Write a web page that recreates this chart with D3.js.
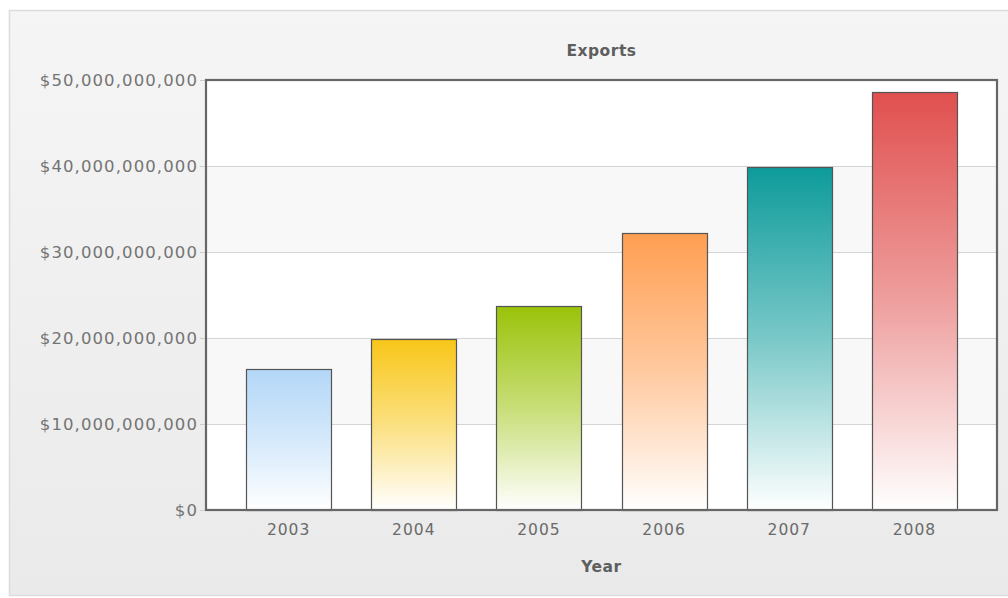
<!DOCTYPE html>
<html>
<head>
<meta charset="utf-8">
<script src="https://cdn.jsdelivr.net/npm/d3@7"></script>
<style>
  html, body { margin: 0; padding: 0; background: #ffffff; }
  svg { display: block; font-family: "DejaVu Sans", Verdana, sans-serif; }
</style>
</head>
<body>
<svg id="chart" width="1008" height="598"></svg>
<script>
const years = ["2003", "2004", "2005", "2006", "2007", "2008"];
const exportsValues = [16400000000, 19850000000, 23700000000, 32200000000, 39900000000, 48600000000];
const barColors = ["#b3d7f7", "#f8c619", "#9bc30a", "#ff9e52", "#0e9b9b", "#e0504f"];
const yTicks = [0, 10000000000, 20000000000, 30000000000, 40000000000, 50000000000];
const chartTitle = "Exports";
const xTitle = "Year";

const svg = d3.select("#chart");
const W = 1008, H = 598;
const plot = { left: 206, top: 80, right: 997, bottom: 510 };

const defs = svg.append("defs");
const bg = defs.append("linearGradient").attr("id", "bgGrad").attr("x1", 0).attr("y1", 0).attr("x2", 0).attr("y2", 1);
bg.append("stop").attr("offset", 0).attr("stop-color", "#f5f5f5");
bg.append("stop").attr("offset", 1).attr("stop-color", "#eaeaea");

// outer panel
svg.append("rect").attr("x", 0).attr("y", 0).attr("width", W).attr("height", H).attr("fill", "#ffffff");
svg.append("rect").attr("x", 9.5).attr("y", 10.5).attr("width", W).attr("height", 585)
  .attr("fill", "url(#bgGrad)").attr("stroke", "#dcdcdc").attr("stroke-width", 1.5);

const x = d3.scaleBand().domain(years).range([plot.left, plot.right]).padding(0.32);
const y = d3.scaleLinear().domain([0, 50000000000]).range([plot.bottom, plot.top]);

// alternating bands
const bands = yTicks.slice(0, -1).map((t, i) => ({ lo: t, hi: yTicks[i + 1], i }));
svg.append("g").selectAll("rect").data(bands).join("rect")
  .attr("x", plot.left).attr("width", plot.right - plot.left)
  .attr("y", d => y(d.hi)).attr("height", d => y(d.lo) - y(d.hi))
  .attr("fill", d => d.i % 2 === 0 ? "#ffffff" : "#f8f8f8");

// gridlines
svg.append("g").selectAll("line").data(yTicks.slice(1, -1)).join("line")
  .attr("x1", plot.left).attr("x2", plot.right)
  .attr("y1", d => Math.round(y(d)) + 0.5).attr("y2", d => Math.round(y(d)) + 0.5)
  .attr("stroke", "#d4d4d4").attr("stroke-width", 1);

// gradients for bars
years.forEach((yr, i) => {
  const g = defs.append("linearGradient").attr("id", "bar" + i)
    .attr("x1", 0).attr("y1", 0).attr("x2", 0).attr("y2", 1);
  g.append("stop").attr("offset", 0).attr("stop-color", barColors[i]);
  g.append("stop").attr("offset", 0.5).attr("stop-color", d3.interpolateRgb(barColors[i], "#ffffff")(0.45));
  g.append("stop").attr("offset", 1).attr("stop-color", "#ffffff");
});

// bars
svg.append("g").selectAll("rect").data(years).join("rect")
  .attr("x", d => Math.round(x(d)) + 0.5)
  .attr("width", Math.round(x.bandwidth()))
  .attr("y", (d, i) => Math.round(y(exportsValues[i])) + 0.5)
  .attr("height", (d, i) => plot.bottom - Math.round(y(exportsValues[i])))
  .attr("fill", (d, i) => `url(#bar${i})`)
  .attr("stroke", "#555555").attr("stroke-width", 1.2);

// plot border
svg.append("rect").attr("x", plot.left).attr("y", plot.top)
  .attr("width", plot.right - plot.left).attr("height", plot.bottom - plot.top)
  .attr("fill", "none").attr("stroke", "#666666").attr("stroke-width", 2.2);

// y axis
const fmt = v => "$" + d3.format(",")(v);
const yAxis = svg.append("g").attr("transform", `translate(${plot.left - 1},0)`)
  .call(d3.axisLeft(y).tickValues(yTicks).tickFormat(fmt).tickSize(5).tickPadding(2));
yAxis.select(".domain").remove();
yAxis.selectAll(".tick line").attr("stroke", "#cccccc");
yAxis.selectAll(".tick text")
  .attr("fill", "#747474").style("font-size", "16.5px").style("letter-spacing", "1.1px")
  .style("font-family", "'DejaVu Sans', Verdana, sans-serif");

// x axis
const xAxis = svg.append("g").attr("transform", `translate(0,${plot.bottom})`)
  .call(d3.axisBottom(x).tickSize(0).tickPadding(14));
xAxis.select(".domain").remove();
xAxis.selectAll(".tick text")
  .attr("fill", "#6a6a6a").style("font-size", "15.5px").style("letter-spacing", "1px")
  .style("font-family", "'DejaVu Sans', Verdana, sans-serif");

// titles
const cx = (plot.left + plot.right) / 2;
svg.append("text").attr("x", cx).attr("y", 56).attr("text-anchor", "middle")
  .attr("fill", "#5e5e5e").style("font-size", "15.5px").style("font-weight", "bold")
  .style("letter-spacing", "0.5px").text(chartTitle);
svg.append("text").attr("x", cx).attr("y", 572).attr("text-anchor", "middle")
  .attr("fill", "#5e5e5e").style("font-size", "15.5px").style("font-weight", "bold")
  .style("letter-spacing", "0.5px").text(xTitle);
</script>
</body>
</html>
